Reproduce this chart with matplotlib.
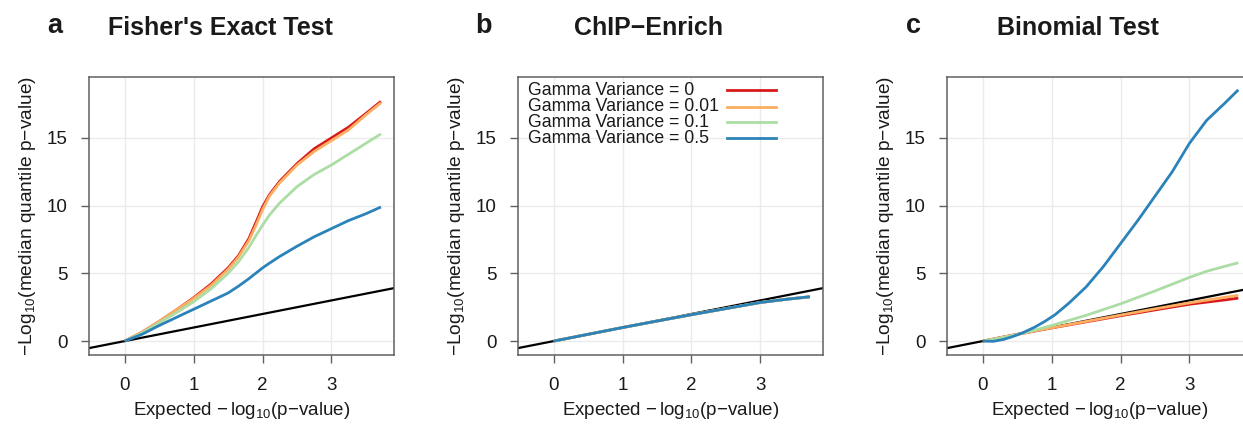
import matplotlib
matplotlib.use("Agg")
from matplotlib import pyplot as plt
from matplotlib.lines import Line2D

plt.rcParams["font.family"] = ["Liberation Sans", "DejaVu Sans"]
plt.rcParams["mathtext.default"] = "regular"

# series names and colours (Spectral palette without the yellow)
series_names = ["Gamma Variance = 0", "Gamma Variance = 0.01",
                "Gamma Variance = 0.1", "Gamma Variance = 0.5"]
series_colors = ["#d7191c", "#fdae61", "#abdda4", "#2b83ba"]

panel_letters = ["a", "b", "c"]
panel_titles = ["Fisher's Exact Test", "ChIP\u2212Enrich", "Binomial Test"]

# Fisher's exact test: expected vs median observed -log10 p
fisher_x = [0, 0.25, 0.5, 0.75, 1.0, 1.25, 1.5, 1.65, 1.8, 1.9, 2.0, 2.1, 2.25, 2.5, 2.75, 3.0, 3.25, 3.5, 3.72]
fisher_g0 = [0, 0.65, 1.45, 2.3, 3.2, 4.2, 5.4, 6.3, 7.55, 8.7, 9.9, 10.8, 11.8, 13.1, 14.2, 15.0, 15.8, 16.8, 17.7]
fisher_g001 = [0, 0.65, 1.45, 2.3, 3.15, 4.1, 5.3, 6.2, 7.4, 8.5, 9.7, 10.7, 11.7, 13.0, 14.0, 14.8, 15.6, 16.7, 17.6]
fisher_g01 = [0, 0.6, 1.35, 2.1, 2.9, 3.85, 5.0, 5.85, 6.9, 7.75, 8.55, 9.3, 10.2, 11.4, 12.3, 13.0, 13.8, 14.6, 15.3]
fisher_g05 = [0, 0.5, 1.15, 1.75, 2.35, 2.95, 3.55, 4.05, 4.6, 5.0, 5.4, 5.75, 6.25, 7.0, 7.7, 8.3, 8.9, 9.4, 9.9]

# ChIP-Enrich: all variances sit on the diagonal
chip_x = [0, 0.5, 1.0, 1.5, 2.0, 2.5, 3.0, 3.4, 3.72]
chip_g0 = [0, 0.5, 1.0, 1.48, 1.95, 2.4, 2.85, 3.1, 3.27]
chip_g001 = [0, 0.5, 1.0, 1.48, 1.95, 2.4, 2.85, 3.1, 3.27]
chip_g01 = [0, 0.5, 1.0, 1.48, 1.95, 2.4, 2.85, 3.1, 3.27]
chip_g05 = [0, 0.5, 1.0, 1.48, 1.95, 2.4, 2.85, 3.1, 3.27]

# binomial test
binom_x = [0, 0.5, 1.0, 1.5, 2.0, 2.5, 3.0, 3.5, 3.71]
binom_g0 = [0, 0.5, 0.97, 1.42, 1.87, 2.3, 2.72, 3.03, 3.17]
binom_g001 = [0, 0.5, 0.98, 1.45, 1.92, 2.38, 2.82, 3.22, 3.38]
binom_g01_x = [0, 0.25, 0.5, 0.75, 1.0, 1.5, 2.0, 2.5, 3.0, 3.25, 3.5, 3.71]
binom_g01 = [0, 0.22, 0.48, 0.8, 1.15, 1.9, 2.75, 3.7, 4.7, 5.15, 5.5, 5.78]
binom_g05_x = [0, 0.15, 0.3, 0.45, 0.6, 0.75, 0.9, 1.05, 1.25, 1.5, 1.75, 2.0, 2.25, 2.5, 2.75, 3.0, 3.25, 3.5, 3.71]
binom_g05 = [0, -0.02, 0.12, 0.36, 0.66, 1.02, 1.45, 1.95, 2.8, 4.0, 5.5, 7.2, 8.9, 10.7, 12.5, 14.6, 16.3, 17.5, 18.55]

panels = [
    [(fisher_x, fisher_g0), (fisher_x, fisher_g001), (fisher_x, fisher_g01), (fisher_x, fisher_g05)],
    [(chip_x, chip_g0), (chip_x, chip_g001), (chip_x, chip_g01), (chip_x, chip_g05)],
    [(binom_x, binom_g0), (binom_x, binom_g001), (binom_g01_x, binom_g01), (binom_g05_x, binom_g05)],
]

x_ticks = [0, 1, 2, 3]
y_ticks = [0, 5, 10, 15]

fig = plt.figure(figsize=(12.43, 4.24), dpi=100)
lefts = [0.0716, 0.4167, 0.7619]
text_col = "#1a1a1a"
frame_col = "#606060"

for i, curves in enumerate(panels):
    ax = fig.add_axes([lefts[i], 0.1627, 0.2454, 0.6557])
    ax.set_xlim(-0.52, 3.91)
    ax.set_ylim(-1.03, 19.5)
    ax.set_xticks(x_ticks)
    ax.set_yticks(y_ticks)
    ax.grid(True, color="#ebebeb", lw=1)
    ax.set_axisbelow(True)

    # expected line y = x
    ax.axline((0, 0), slope=1, color="black", lw=1.6, zorder=2)
    for (xs, ys), col in zip(curves, series_colors):
        ax.plot(xs, ys, color=col, lw=2.0, zorder=3, solid_capstyle="butt")

    for s in ax.spines.values():
        s.set_color(frame_col)
        s.set_linewidth(1.1)
    ax.tick_params(axis="both", length=5.5, width=1, color=frame_col,
                   labelsize=13.5, labelcolor=text_col)
    ax.tick_params(axis="x", pad=10)
    ax.tick_params(axis="y", pad=10)
    ax.set_xlabel(r"Expected $-\,log_{10}$(p$-$value)", fontsize=13.5,
                  color=text_col, labelpad=5)
    ax.set_ylabel(r"$-Log_{10}$(median quantile p$-$value)", fontsize=13.8,
                  color=text_col, labelpad=6)

    # legend only in the middle panel, text left and line samples right
    if i == 1:
        rows = [0.953, 0.893, 0.837, 0.779]
        for name, col, yy in zip(series_names, series_colors, rows):
            ax.text(0.033, yy, name, transform=ax.transAxes, fontsize=12.7,
                    color=text_col, va="center", ha="left")
            ax.add_line(Line2D([0.685, 0.846], [yy, yy], transform=ax.transAxes,
                               color=col, lw=2.0))

    x0 = lefts[i] * 1243
    fig.text((x0 + 131) / 1243, 1 - 28 / 424, panel_titles[i], fontsize=18,
             fontweight="bold", ha="center", va="center", color=text_col)
    fig.text((x0 - 34) / 1243, 1 - 26 / 424, panel_letters[i], fontsize=19.5,
             fontweight="bold", ha="center", va="center", color=text_col)

fig.savefig("out.png", dpi=100)
